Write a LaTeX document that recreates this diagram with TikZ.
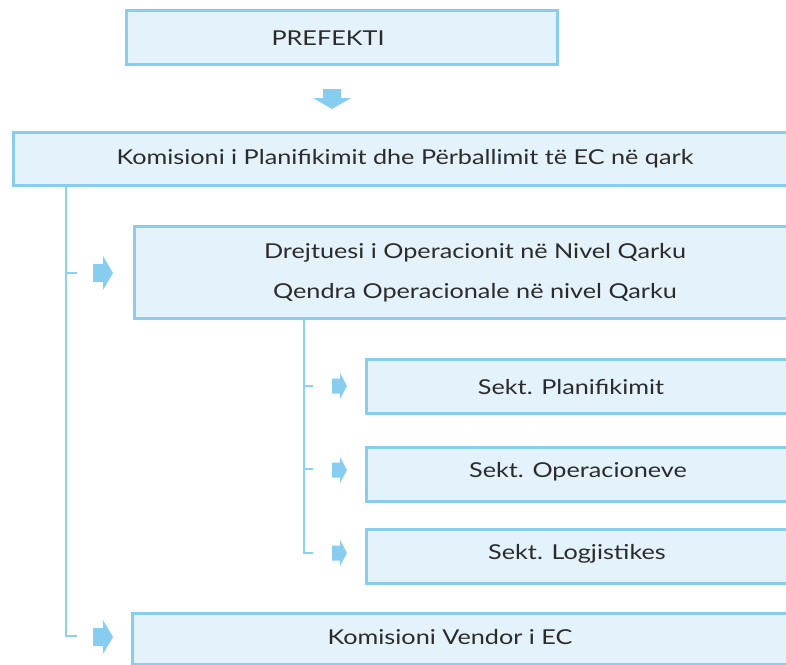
\documentclass[tikz,border=0pt]{standalone}
\usepackage{fontspec}
\setmainfont{Lato}[FakeStretch=1.23]
\definecolor{bbord}{HTML}{86CDF0}
\definecolor{bfill}{HTML}{E4F2FB}
\definecolor{lcol}{HTML}{8DD1F1}
\definecolor{acol}{HTML}{86CDF0}
\definecolor{tcol}{HTML}{2B2B2B}
\begin{document}
\begin{tikzpicture}[x=1pt,y=-1pt,
  box/.style={draw=bbord, fill=bfill, line width=2.8pt, inner sep=0pt, anchor=north west},
  lbl/.style={text=tcol, font=\fontsize{20.5}{24}\selectfont, inner sep=0pt},
  conn/.style={draw=lcol, line width=1.8pt},
  bigarr/.pic={\fill[acol] (-20,-9) -- (-10,-9) -- (-10,-17) -- (0,0) -- (-10,17) -- (-10,9) -- (-20,9) -- cycle;},
  smallarr/.pic={\fill[acol] (-15,-7.5) -- (-7,-7.5) -- (-7,-13) -- (0,0) -- (-7,13) -- (-7,7.5) -- (-15,7.5) -- cycle;},
  downarr/.pic={\fill[acol] (-9,-20) -- (9,-20) -- (9,-11) -- (19,-11) -- (0,0) -- (-19,-11) -- (-9,-11) -- cycle;}]
\useasboundingbox (0,0) rectangle (786,664);
\clip (0,0) rectangle (786,664);
% boxes
\node[box, minimum width=431pt, minimum height=54pt] (pref) at (125,9) {};
\node[box, minimum width=900pt, minimum height=53pt] (kom) at (12,131) {};
\node[box, minimum width=900pt, minimum height=92pt] (drej) at (133,225) {};
\node[box, minimum width=900pt, minimum height=54pt] (s1) at (365,358) {};
\node[box, minimum width=900pt, minimum height=54pt] (s2) at (365,446) {};
\node[box, minimum width=900pt, minimum height=54pt] (s3) at (365,528) {};
\node[box, minimum width=900pt, minimum height=51pt] (kv) at (131,612) {};
% labels
\node[lbl] (tpref) at (328,38) {PREFEKTI};
\node[lbl] (tkom) at (405,159) {Komisioni i Planifikimit dhe Përballimit të EC në qark};
\node[lbl] (tdrej1) at (475,253) {Drejtuesi i Operacionit në Nivel Qarku};
\node[lbl] (tdrej2) at (475,293) {Qendra Operacionale në nivel Qarku};
\node[lbl] (ts1) at (571,387) {Sekt. Planifikimit};
\node[lbl] (ts2) at (578,472) {Sekt. Operacioneve};
\node[lbl] (ts3) at (577,554) {Sekt. Logjistikes};
\node[lbl] (tkv) at (450,637) {Komisioni Vendor i EC};
% connectors level 1
\coordinate (t1) at (66,184);
\coordinate (e1) at (77,273);
\coordinate (e2) at (77,636);
\draw[conn] (kom.south west -| t1) -- (t1 |- e2) -- (e2);
\draw[conn] (t1 |- e1) -- (e1);
% connectors level 2
\coordinate (t2) at (304,317);
\coordinate (f1) at (313,386);
\coordinate (f2) at (313,469);
\coordinate (f3) at (313,553);
\draw[conn] (drej.south west -| t2) -- (t2 |- f3) -- (f3);
\draw[conn] (t2 |- f1) -- (f1);
\draw[conn] (t2 |- f2) -- (f2);
% arrows
\pic at (332,109) {downarr};
\pic at (113,273) {bigarr};
\pic at (113,637) {bigarr};
\pic at (347,386) {smallarr};
\pic at (347,470) {smallarr};
\pic at (347,553) {smallarr};
\end{tikzpicture}
\end{document}
